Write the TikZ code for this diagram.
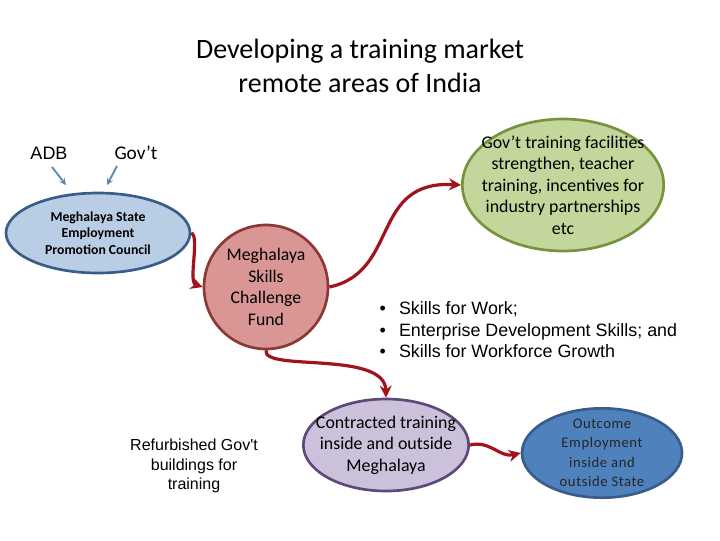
\documentclass[tikz,border=0pt]{standalone}
\usepackage{fontspec}
\setmainfont{Carlito}
\newfontfamily\arialf{Liberation Sans}
\usetikzlibrary{shapes.geometric,arrows.meta}
\definecolor{conred}{RGB}{160,20,30}
\definecolor{smallarr}{RGB}{95,135,175}
\definecolor{lbfill}{RGB}{185,205,229}
\definecolor{lbdraw}{RGB}{56,93,138}
\definecolor{rdfill}{RGB}{217,150,148}
\definecolor{rddraw}{RGB}{140,56,54}
\definecolor{grfill}{RGB}{195,214,155}
\definecolor{grdraw}{RGB}{119,147,60}
\definecolor{pufill}{RGB}{204,193,218}
\definecolor{pudraw}{RGB}{95,73,122}
\definecolor{bfill}{RGB}{79,129,189}
\tikzset{
  blob/.style={ellipse, inner sep=0pt, line width=2pt},
  blobtext/.style={align=center, inner sep=0pt},
  conn/.style={conred, line width=2.4pt, -{Stealth[length=9pt,width=9pt]}},
  thin arr/.style={smallarr, line width=1.4pt, -{Stealth[length=5pt,width=5pt]}},
  arialtext/.style={font=\arialf\fontsize{13.4}{16.2}\selectfont, align=left}
}
\begin{document}
\begin{tikzpicture}[x=0.75pt,y=-0.75pt]
\useasboundingbox (0,0) rectangle (720,540);
\fill[white] (0,0) rectangle (720,540);
% title
\node[font=\fontsize{21}{25.5}\selectfont, align=center] (title) at (360,66) {Developing a training market\\remote areas of India};
% top labels
\node[font=\arialf\fontsize{13.5}{15}\selectfont] (adb) at (49,153) {ADB};
\node[font=\fontsize{14.5}{15}\selectfont] (gov) at (136,153) {Gov't};
% shapes
\node[blob, draw=lbdraw, fill=lbfill, minimum width=138pt, minimum height=60pt] (mseprc) at (98,233) {};
\node[blob, draw=rddraw, fill=rdfill, minimum width=93pt, minimum height=93pt] (fund) at (266,287) {};
\node[blob, draw=grdraw, fill=grfill, minimum width=151pt, minimum height=99pt] (green) at (563,185) {};
\node[blob, draw=pudraw, fill=pufill, minimum width=124pt, minimum height=69pt] (contract) at (386,445) {};
\node[blob, draw=lbdraw, fill=bfill, minimum width=120pt, minimum height=67pt] (outcome) at (602,453) {};
% texts in shapes
\node[blobtext, font=\bfseries\fontsize{10.3}{12.2}\selectfont] (mseprct) at (mseprc) {Meghalaya State\\Employment\\Promotion Council};
\node[blobtext, font=\fontsize{13.3}{16.2}\selectfont] (fundt) at (fund) {Meghalaya\\Skills\\Challenge\\Fund};
\node[blobtext, font=\fontsize{13.4}{16.2}\selectfont] (greent) at (green) {Gov't training facilities\\strengthen, teacher\\training, incentives for\\industry partnerships\\etc};
\node[blobtext, font=\fontsize{13.4}{16}\selectfont] (contractt) at (contract) {Contracted training\\inside and outside\\Meghalaya};
\node[blobtext, font=\addfontfeature{LetterSpace=4}\fontsize{11}{14.6}\selectfont, text=black!85] (outcomet) at (outcome) {Outcome\\Employment\\inside and\\outside State};
% bullets
\node[arialtext, anchor=north west] (bullets) at (375,297) {%
\makebox[14.5pt][l]{\textbullet}Skills for Work;\\
\makebox[14.5pt][l]{\textbullet}Enterprise Development Skills; and\\
\makebox[14.5pt][l]{\textbullet}Skills for Workforce Growth};
\node[font=\arialf\fontsize{12}{14.7}\selectfont, align=center] (refurb) at (194,466) {Refurbished Gov't\\buildings for\\training};
% small arrows
\coordinate (a1s) at (52,167); \coordinate (a1e) at (66,185);
\coordinate (a2s) at (117,166); \coordinate (a2e) at (107,185);
\draw[thin arr] (a1s) -- (a1e);
\draw[thin arr] (a2s) -- (a2e);
% connectors
\draw[conn] (mseprc.east) .. controls (200,236) and (188,282) .. (fund.west);
\draw[conn] (fund.east) .. controls (400,272) and (370,180) .. (green.west);
\draw[conn] (fund.south) .. controls (262,372) and (385,350) .. (contract.north);
\draw[conn] (contract.east) .. controls (490,440) and (500,458) .. (outcome.west);
\end{tikzpicture}
\end{document}
